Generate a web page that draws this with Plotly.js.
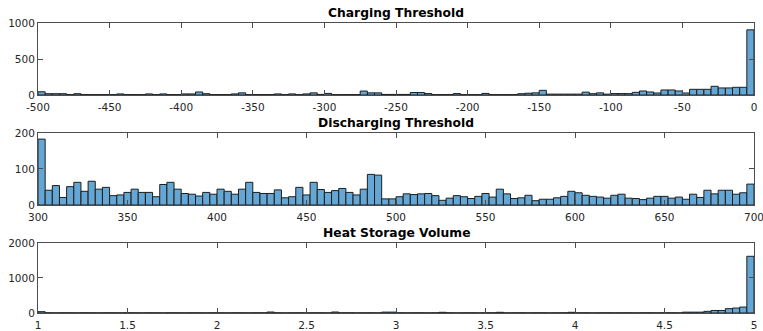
<!DOCTYPE html>
<html>
<head>
<meta charset="utf-8">
<script src="https://cdn.plot.ly/plotly-3.0.1.min.js"></script>
<style>
html,body{margin:0;padding:0;background:#fff;}
#chart{width:763px;height:331px;}
</style>
</head>
<body>
<div id="chart"></div>
<script>
// ---- Data ----
const chargingTitle = "Charging Threshold";
const chargingStart = -500, chargingBinWidth = 5;
const chargingCounts = [
  45,18,18,18,5,18,5,5,5,5,
  5,15,5,5,5,15,5,15,5,5,
  15,15,42,18,5,5,5,15,30,5,
  5,5,5,15,5,15,5,15,30,8,
  22,5,5,5,5,55,30,30,8,8,
  8,8,35,35,20,5,5,5,20,5,
  5,5,22,5,5,5,5,18,25,30,
  65,12,12,12,12,12,40,18,30,12,
  20,20,19,37,56,42,28,70,70,56,
  28,79,79,79,121,98,98,107,107,905
];
const chargingTickVals = [-500,-450,-400,-350,-300,-250,-200,-150,-100,-50,0];
const chargingTickText = ["-500","-450","-400","-350","-300","-250","-200","-150","-100","-50","0"];
const chargingYTicks = [0,500,1000];

const dischargingTitle = "Discharging Threshold";
const dischargingStart = 300, dischargingBinWidth = 4;
const dischargingCounts = [
  183,41,54,21,51,63,38,66,44,49,
  26,28,35,44,35,35,23,57,63,44,
  32,30,25,35,30,44,38,30,44,63,
  35,32,32,42,20,23,49,28,63,43,
  35,40,46,35,28,44,85,83,17,17,
  23,31,29,31,32,26,13,19,26,23,
  18,24,32,22,44,31,18,20,27,12,
  16,16,20,24,38,34,27,24,22,19,
  27,30,19,18,15,19,24,24,19,22,
  16,30,21,41,31,41,41,30,34,58
];
const dischargingTickVals = [300,350,400,450,500,550,600,650,700];
const dischargingTickText = ["300","350","400","450","500","550","600","650","700"];
const dischargingYTicks = [0,100,200];

const heatTitle = "Heat Storage Volume";
const heatStart = 1, heatBinWidth = 0.04;
const heatCounts = [
  38,6,4,6,5,4,6,5,4,6,
  5,4,6,5,4,6,5,4,6,5,
  4,6,5,4,6,5,4,6,5,4,
  6,5,28,6,4,5,6,4,5,6,
  4,28,5,6,4,5,6,4,25,25,
  6,4,5,6,4,5,20,6,4,5,
  6,4,5,6,20,4,5,6,4,5,
  6,4,5,6,20,5,6,4,5,6,
  4,5,6,4,5,6,4,5,6,4,
  24,24,24,48,72,72,124,142,170,1620
];
const heatTickVals = [1,1.5,2,2.5,3,3.5,4,4.5,5];
const heatTickText = ["1","1.5","2","2.5","3","3.5","4","4.5","5"];
const heatYTicks = [0,1000,2000];

// ---- Build ----
function centers(start, w, n){ const c=[]; for(let i=0;i<n;i++) c.push(start + (i+0.5)*w); return c; }
const barColor = "rgb(100,166,212)";
const edgeColor = "rgb(30,30,30)";
function barTrace(start, w, counts, xa, ya){
  return {
    type:"bar", x:centers(start,w,counts.length), y:counts, width:w,
    xaxis:xa, yaxis:ya,
    marker:{color:barColor, line:{color:edgeColor, width:1}},
    hoverinfo:"x+y", showlegend:false
  };
}
const data = [
  barTrace(chargingStart, chargingBinWidth, chargingCounts, "x", "y"),
  barTrace(dischargingStart, dischargingBinWidth, dischargingCounts, "x2", "y2"),
  barTrace(heatStart, heatBinWidth, heatCounts, "x3", "y3")
];

const tickFont = {family:"DejaVu Sans", size:10.5, color:"#262626"};
function xax(range, vals, text, anchor){
  return {range:range, tickvals:vals, ticktext:text, ticks:"inside", ticklen:5, tickwidth:1,
    tickcolor:"#4d4d4d", showline:true, linecolor:"#4d4d4d", linewidth:1, mirror:"ticks",
    showgrid:false, zeroline:false, tickfont:tickFont, anchor:anchor, fixedrange:true,
    ticklabelstandoff:2, ticklabeloverflow:"allow"};
}
function yax(range, vals, domain, anchor){
  return {range:range, tickvals:vals, ticktext:vals.map(String), ticks:"inside", ticklen:5, tickwidth:1,
    tickcolor:"#4d4d4d", showline:true, linecolor:"#4d4d4d", linewidth:1, mirror:"ticks",
    showgrid:false, zeroline:false, tickfont:tickFont, domain:domain, anchor:anchor, fixedrange:true,
    ticklabeloverflow:"allow"};
}
const d1=[0.7517,1.0], d2=[0.3724,0.6207], d3=[0,0.2414];
const titleFont = {family:"DejaVu Sans", size:12.3, color:"#000", weight:"bold"};
function ann(text, y){
  return {text:"<b>"+text+"</b>", xref:"paper", yref:"paper", x:0.5, y:y, xanchor:"center", yanchor:"bottom",
    showarrow:false, font:titleFont, yshift:1};
}
const layout = {
  width:763, height:331,
  margin:{l:38, r:9, t:23, b:18},
  paper_bgcolor:"#fff", plot_bgcolor:"#fff",
  bargap:0,
  xaxis: xax([-500,0], chargingTickVals, chargingTickText, "y"),
  yaxis: yax([0,1000], chargingYTicks, d1, "x"),
  xaxis2: xax([300,700], dischargingTickVals, dischargingTickText, "y2"),
  yaxis2: yax([0,200], dischargingYTicks, d2, "x2"),
  xaxis3: xax([1,5], heatTickVals, heatTickText, "y3"),
  yaxis3: yax([0,2000], heatYTicks, d3, "x3"),
  annotations:[ann(chargingTitle, d1[1]), ann(dischargingTitle, d2[1]), ann(heatTitle, d3[1])]
};
Plotly.newPlot("chart", data, layout, {displayModeBar:false, staticPlot:true});
</script>
</body>
</html>
